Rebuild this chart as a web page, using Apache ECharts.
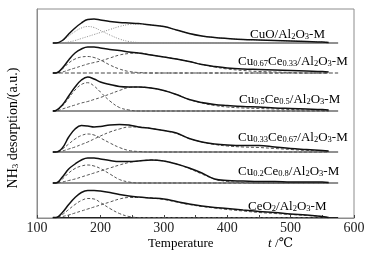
<!DOCTYPE html>
<html><head><meta charset="utf-8">
<script src="https://cdn.jsdelivr.net/npm/echarts@6/dist/echarts.min.js"></script>
<style>html,body{margin:0;padding:0;background:#fff}#c{width:370px;height:256px}</style>
</head><body><div id="c"></div>
<script>
// temperatures (°C) at which the traces were read
var temps = [125,130,140,150,160,170,180,190,200,215,230,245,260,280,300,320,340,360,380,400,425,450,475,500,525,550,560];
var baselineSpan = [125, 575];
var xTicks = [100, 200, 300, 400, 500, 600];
// vertical offsets of each stacked trace (a.u.)
var offsets = [175, 145, 107, 66, 35, 0.5];
var sampleNames = ['CuO/Al2O3-M','Cu0.67Ce0.33/Al2O3-M','Cu0.5Ce0.5/Al2O3-M','Cu0.33Ce0.67/Al2O3-M','Cu0.2Ce0.8/Al2O3-M','CeO2/Al2O3-M'];

// measured profiles (a.u., above each baseline)
var cuoTotal = [0,0,2.5,9,15,20,23.5,24,23,21.5,20.5,20,19.5,18,16.5,13,9.5,7,5.5,4.5,3.5,3,2.5,2,1.5,1,0.5];
var cuoLow   = [0,0,2.5,7,11.5,15,16.5,15.5,12.5,8,4,1.5,0.5,0,0,0,0,0,0,0,0,0,0,0,0,0,0];
var cuoMid   = [0,0,0.3,1,2.5,4.5,6.5,8.5,10.5,13.5,16.5,18.5,19,18,16.5,13,9.5,7,5.5,4.5,3.5,3,2.5,2,1.5,1,0.5];

var c67Total = [0,0,5,13,20,24,26,26,25,23.5,22.5,21,20,18,16,14,11.5,8.5,6.5,5,4,3.5,3,2.5,2,1.5,1];
var c67Low   = [0,0,4,10,14,16,16.5,15.5,13,8,4,1.5,0.5,0,0,0,0,0,0,0,0,0,0,0,0,0,0];
var c67Mid   = [0,0,1,3,5,7,9,10.5,12,15,18,19.5,20,18,16,14,11.5,8.5,6,4,2.5,1.5,1,0.5,0,0,0];

var c50Total = [0,0.5,6,15,24,31,34,32,29,26.5,24.5,24,24,23,20.5,16.5,11.5,8.5,6.5,5.5,4.5,4,3,2.5,2,1.5,1];
var c50Low   = [0,0.5,5,13,21,26.5,28.3,25,19,10,3.5,1,0,0,0,0,0,0,0,0,0,0,0,0,0,0,0];
var c50Mid   = [0,0,2,4,6,8,9.5,11.5,13.5,17,20.5,23.5,24,23,20.5,16.5,11.5,8,5.5,4,3,2.5,2,1.5,1,0.5,0];

var c33Total = [0,0,4,15,23,26.5,26,25,25.5,27,27.5,27,25,23.5,21.5,19,13.5,10,8,7,6.5,6.5,5,3.5,2.5,1.5,1];
var c33Low   = [0,0,3,8,13,16.5,18,17,14,9,4.5,1.5,0.5,0,0,0,0,0,0,0,0,0,0,0,0,0,0];
var c33Mid   = [0,0,1,3,5,7.5,10,13,16,20,23,25,25,23.5,21.5,18.5,13.5,10,7.5,6,5,4.5,3.5,2.5,1.5,1,0.5];

var c20Total = [0,0,6,14,19,23,25,25,24,22.5,21.5,21.5,22,23,22,19,15,10,4,2.5,2,1.5,1.5,1,1,1,0.5];
var c20Low   = [0,0,4,10,14.5,17,18,17,14.5,9,3.5,1,0,0,0,0,0,0,0,0,0,0,0,0,0,0,0];
var c20Mid   = [0,0,1,2.5,4,6,8,10,12,15,18,20.5,22,23,22,19,14.5,9,4,1.5,0.5,0,0,0,0,0,0];

var ceTotal  = [0,0,5,13,20,25,27,27,26.5,25,23,21.5,20.5,19.5,18.5,16,13.5,11.5,10,9,7.5,6,5,3.5,2.5,1,0];
var ceLow    = [0,0,3,8,13,17,19,18.5,15,9,4,1,0,0,0,0,0,0,0,0,0,0,0,0,0,0,0];
var ceMid    = [0,0,1,2.5,4.5,6.5,8.5,10.5,12.5,15.5,18.5,20,20,19.5,18,15.5,13,11,9.5,8,6.5,5,4,3,2,1,0];

var totals = [cuoTotal, c67Total, c50Total, c33Total, c20Total, ceTotal];
var lows   = [cuoLow, c67Low, c50Low, c33Low, c20Low, ceLow];
var mids   = [cuoMid, c67Mid, c50Mid, c33Mid, c20Mid, ceMid];

function pts(arr, off){ return temps.map(function(t,j){ return [t, off + arr[j]]; }); }

var series = [];
for (var i = 0; i < 6; i++) {
  var off = offsets[i];
  var compType = i === 0 ? [1, 1.5] : [3, 2];
  var compColor = i === 0 ? '#8a8a8a' : '#555';
  series.push({type:'line', data:[[baselineSpan[0],off],[baselineSpan[1],off]], symbol:'none', silent:true,
    lineStyle:{color: i===1 ? '#444' : '#222', width:1, type: i===1 ? [4,2] : 'solid'}});
  series.push({type:'line', data:pts(lows[i],off), symbol:'none', smooth:0.4,
    lineStyle:{color:compColor, width:1, type:compType}});
  series.push({type:'line', data:pts(mids[i],off), symbol:'none', smooth:0.4,
    lineStyle:{color:compColor, width:1, type:compType}});
  series.push({type:'line', data:pts(totals[i],off), symbol:'none', smooth:0.4,
    lineStyle:{color:'#111', width:1.5}});
}

var serif = '"Liberation Serif","DejaVu Serif",serif';
var rich = {
  n:{fontFamily:serif, fontSize:13, color:'#111', lineHeight:16, verticalAlign:'bottom'},
  s:{fontFamily:serif, fontSize:8.5, color:'#111', lineHeight:12, verticalAlign:'bottom'}
};
var richY = {
  n:{fontFamily:serif, fontSize:14, color:'#111', lineHeight:17, verticalAlign:'bottom'},
  s:{fontFamily:serif, fontSize:9, color:'#111', lineHeight:13, verticalAlign:'bottom'}
};
function richName(name){
  return name.replace(/(Cu|Ce|Al|O)([0-9.]+)/g, function(m, el, num){ return '{n|'+el+'}{s|'+num+'}'; })
             .replace(/(^|\})([^{}]+)(?=\{|$)/g, function(m, p, txt){ return p + '{n|' + txt + '}'; });
}
var labelPos = [[250,33],[238,60],[239,98],[238,136],[238,170],[248,205]];
var graphics = sampleNames.map(function(nm, i){
  return {type:'text', x:labelPos[i][0], y:labelPos[i][1], style:{text:richName(nm), rich:rich, verticalAlign:'middle', textVerticalAlign:'middle'}};
});
graphics.push({type:'text', x:148, y:242, style:{text:'{n|Temperature}', rich:rich, verticalAlign:'middle', textVerticalAlign:'middle'}});
graphics.push({type:'text', x:268, y:242, style:{text:'{i|t} {n|/℃}', rich:{n:rich.n, i:{fontFamily:serif, fontSize:13, fontStyle:'italic', color:'#111', lineHeight:16, verticalAlign:'bottom'}}, verticalAlign:'middle', textVerticalAlign:'middle'}});
graphics.push({type:'text', x:12, y:128, rotation:Math.PI/2, style:{text:'{n|NH}{s|3}{n| desorption/(a.u.)}', rich:richY, align:'center', textAlign:'center', verticalAlign:'middle', textVerticalAlign:'middle'}});

var chart = echarts.init(document.getElementById('c'));
chart.setOption({
  animation:false,
  backgroundColor:'#fff',
  grid:{left:37, right:16, top:9, bottom:38, show:true, borderColor:'#8c8c8c', borderWidth:1},
  xAxis:{type:'value', min:100, max:600, interval:50,
    axisLine:{lineStyle:{color:'#8c8c8c'}},
    axisTick:{inside:true, length:3, lineStyle:{color:'#444'}},
    axisLabel:{fontFamily:serif, fontSize:14, color:'#222', margin:3,
      formatter:function(v){ return xTicks.indexOf(v) >= 0 ? String(v) : ''; }},
    splitLine:{show:false}},
  yAxis:{type:'value', min:0, max:209, show:true, axisLine:{show:true, lineStyle:{color:'#8c8c8c'}},
    axisTick:{show:false}, axisLabel:{show:false}, splitLine:{show:false}},
  series:series,
  graphic:graphics
});
</script></body></html>
